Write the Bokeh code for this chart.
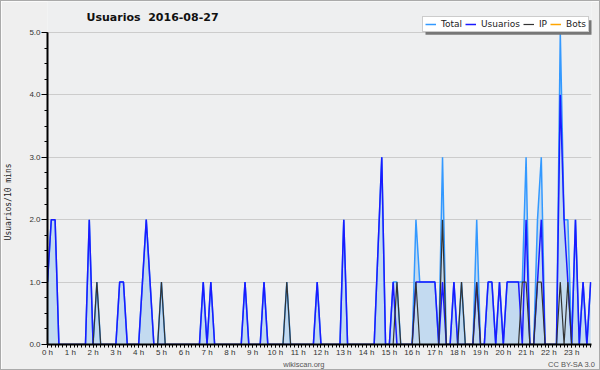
from bokeh.plotting import figure
from bokeh.models import (Range1d, Legend, LegendItem, FixedTicker, ColumnDataSource,
                          Label, LinearAxis, BoxAnnotation)
from bokeh.embed import file_html
from bokeh.resources import INLINE

title_text = "Usuarios\u00a0\u00a02016-08-27"
y_label = "Usuarios/10 mins"
hour_labels = ["0 h", "1 h", "2 h", "3 h", "4 h", "5 h", "6 h", "7 h", "8 h", "9 h",
               "10 h", "11 h", "12 h", "13 h", "14 h", "15 h", "16 h", "17 h", "18 h",
               "19 h", "20 h", "21 h", "22 h", "23 h"]
series_names = ["Total", "Usuarios", "IP", "Bots"]
footer_texts = ["wikiscan.org", "CC BY-SA 3.0"]

# 144 ten-minute slots
total = [1, 2, 2, 0, 0, 0, 0, 0, 0, 0, 0, 2, 0, 1, 0, 0, 0, 0, 0, 1, 1, 0, 0, 0,
         0, 1, 2, 1, 0, 0, 1, 0, 0, 0, 0, 0, 0, 0, 0, 0, 0, 1, 0, 1, 0, 0, 0, 0,
         0, 0, 0, 0, 1, 0, 0, 0, 0, 1, 0, 0, 0, 0, 0, 1, 0, 0, 0, 0, 0, 0, 0, 1,
         0, 0, 0, 0, 0, 0, 2, 0, 0, 0, 0, 0, 0, 0, 0, 1.5, 3, 0, 0, 1, 1, 0, 0, 0,
         0, 2, 1, 1, 1, 1, 1, 0, 3, 0, 0, 1, 0, 1, 0, 0, 0, 2, 0, 0, 1, 1, 0, 1,
         0, 1, 1, 1, 1, 1, 3, 0, 0, 2, 3, 0, 0, 0, 0, 5, 2, 2, 0, 2, 0, 1, 0, 1]
usuarios = [1, 2, 2, 0, 0, 0, 0, 0, 0, 0, 0, 2, 0, 0, 0, 0, 0, 0, 0, 1, 1, 0, 0, 0,
            0, 1, 2, 1, 0, 0, 0, 0, 0, 0, 0, 0, 0, 0, 0, 0, 0, 1, 0, 1, 0, 0, 0, 0,
            0, 0, 0, 0, 1, 0, 0, 0, 0, 1, 0, 0, 0, 0, 0, 0, 0, 0, 0, 0, 0, 0, 0, 1,
            0, 0, 0, 0, 0, 0, 2, 0, 0, 0, 0, 0, 0, 0, 0, 1.5, 3, 0, 0, 1, 0, 0, 0, 0,
            0, 1, 1, 1, 1, 1, 1, 0, 1, 0, 0, 1, 0, 0, 0, 0, 0, 1, 0, 0, 1, 1, 0, 1,
            0, 1, 1, 1, 1, 0, 2, 0, 0, 1, 2, 0, 0, 0, 0, 4, 2, 1, 0, 2, 0, 1, 0, 1]
ip = [0, 0, 0, 0, 0, 0, 0, 0, 0, 0, 0, 0, 0, 1, 0, 0, 0, 0, 0, 0, 0, 0, 0, 0,
      0, 0, 0, 0, 0, 0, 1, 0, 0, 0, 0, 0, 0, 0, 0, 0, 0, 0, 0, 0, 0, 0, 0, 0,
      0, 0, 0, 0, 0, 0, 0, 0, 0, 0, 0, 0, 0, 0, 0, 1, 0, 0, 0, 0, 0, 0, 0, 0,
      0, 0, 0, 0, 0, 0, 0, 0, 0, 0, 0, 0, 0, 0, 0, 0, 0, 0, 0, 0, 1, 0, 0, 0,
      0, 1, 0, 0, 0, 0, 0, 0, 2, 0, 0, 0, 0, 1, 0, 0, 0, 1, 0, 0, 0, 0, 0, 0,
      0, 0, 0, 0, 0, 1, 1, 0, 0, 1, 1, 0, 0, 0, 0, 1, 0, 1, 0, 0, 0, 0, 0, 0]
bots = [0, 0, 0, 0, 0, 0, 0, 0, 0, 0, 0, 0, 0, 0, 0, 0, 0, 0, 0, 0, 0, 0, 0, 0,
        0, 0, 0, 0, 0, 0, 0, 0, 0, 0, 0, 0, 0, 0, 0, 0, 0, 0, 0, 0, 0, 0, 0, 0,
        0, 0, 0, 0, 0, 0, 0, 0, 0, 0, 0, 0, 0, 0, 0, 0, 0, 0, 0, 0, 0, 0, 0, 0,
        0, 0, 0, 0, 0, 0, 0, 0, 0, 0, 0, 0, 0, 0, 0, 0, 0, 0, 0, 0, 0, 0, 0, 0,
        0, 0, 0, 0, 0, 0, 0, 0, 0, 0, 0, 0, 0, 0, 0, 0, 0, 0, 0, 0, 0, 0, 0, 0,
        0, 0, 0, 0, 0, 0, 0, 0, 0, 0, 0, 0, 0, 0, 0, 0, 0, 0, 0, 0, 0, 0, 0, 0]

hours = [i / 6 for i in range(len(total))]
src = ColumnDataSource(dict(h=hours, total=total, usuarios=usuarios, ip=ip,
                            bots=bots, zero=[0] * len(total)))

BG = "#efefef"
FONT = "DejaVu Sans"
TICKFONT = "Liberation Sans"

# layout: frame runs from the canvas top (title/legend live inside it) down to the x axis
W, H = 600, 370
BOTTOM = 26                 # bottom panel height
FB = H - BOTTOM             # canvas y of the frame bottom (value 0)
TOP5 = 31                   # canvas y of value 5.0
y_end = 5.0 * FB / (FB - TOP5)

p = figure(width=W, height=H, output_backend="svg", toolbar_location=None,
           x_range=Range1d(0, 23.87), y_range=Range1d(0, y_end), title=None)
p.min_border_left = 46
p.min_border_right = 10
p.min_border_top = 0
p.min_border_bottom = BOTTOM
p.background_fill_color = "#eeeff0"
p.border_fill_color = BG
p.outline_line_color = None

# hour axis
xa = p.xaxis[0]
xa.ticker = FixedTicker(ticks=list(range(24)), minor_ticks=hours)
xa.major_label_overrides = {i: lab for i, lab in enumerate(hour_labels)}
xa.axis_line_color = "black"
xa.axis_line_width = 2
xa.major_tick_line_color = "black"
xa.minor_tick_line_color = "black"
xa.major_tick_out = 3
xa.major_tick_in = 0
xa.minor_tick_out = 3
xa.minor_tick_in = 0
xa.major_label_standoff = 0
xa.major_label_text_font = TICKFONT
xa.major_label_text_font_size = "8px"
xa.major_label_text_color = "#333333"

# footer row (site name centred, licence at the right) drawn as a tick-less axis
foot = LinearAxis(ticker=FixedTicker(ticks=[11.25, 23.0], minor_ticks=[]),
                  major_label_overrides={11.25: footer_texts[0], 23.0: footer_texts[1]},
                  axis_line_color=None, major_tick_line_color=None,
                  minor_tick_line_color=None, major_tick_out=0, major_tick_in=0,
                  minor_tick_out=0, minor_tick_in=0, major_label_standoff=0,
                  major_label_text_font=TICKFONT, major_label_text_font_size="7.5px",
                  major_label_text_color="#555555")
p.add_layout(foot, "below")

ya = p.yaxis[0]
ya.bounds = (0, 5)
ya.ticker = FixedTicker(ticks=[0, 1, 2, 3, 4, 5],
                        minor_ticks=[i / 4 for i in range(21)])
ya.major_label_overrides = {0: "0.0", 1: "1.0", 2: "2.0", 3: "3.0", 4: "4.0", 5: "5.0"}
ya.axis_line_color = "black"
ya.axis_line_width = 2
ya.major_tick_line_color = "black"
ya.minor_tick_line_color = "black"
ya.major_tick_out = 6
ya.major_tick_in = 0
ya.minor_tick_out = 3
ya.minor_tick_in = 0
ya.major_label_standoff = 1
ya.major_label_text_font = TICKFONT
ya.major_label_text_font_size = "8px"
ya.major_label_text_color = "#333333"
# trailing no-break spaces shift the centred label down to where the original sits
ya.axis_label = y_label + "\u00a0" * 12
ya.axis_label_text_font = "DejaVu Sans Mono"
ya.axis_label_text_font_size = "8px"
ya.axis_label_text_font_style = "normal"
ya.axis_label_text_color = "#222222"
ya.axis_label_standoff = 13

p.xgrid.visible = False
p.ygrid.grid_line_color = "#cccccc"
p.ygrid.grid_line_width = 1

# series
r_bots = p.line("h", "bots", source=src, color="#ffa500", line_width=1.5)
p.varea(x="h", y1="zero", y2="total", source=src, fill_color="#c3daf0", fill_alpha=1)
r_total = p.line("h", "total", source=src, color="#3399ff", line_width=1.5)
r_users = p.line("h", "usuarios", source=src, color="#1a1aff", line_width=1.5)
r_ip = p.line("h", "ip", source=src, color="#333333", line_width=1.2)

# title (inside the tall frame, above the 5.0 line)
p.add_layout(Label(x=39, y=FB - 17, x_units="screen", y_units="screen",
                   text=title_text, text_font=FONT, text_font_size="11px",
                   text_font_style="bold", text_color="#111111",
                   text_baseline="middle"))

# legend box and its drop shadow
LEG_X, LEG_BOTTOM, LEG_W, LEG_H = 375, FB - 31.7, 166.5, 14.5
shadow = BoxAnnotation(left=LEG_X + 3, right=LEG_X + 3 + LEG_W,
                       bottom=LEG_BOTTOM - 2.6, top=LEG_BOTTOM - 2.6 + LEG_H,
                       left_units="screen", right_units="screen",
                       top_units="screen", bottom_units="screen",
                       fill_color="#777777", fill_alpha=1, line_color=None)
p.add_layout(shadow)

legend = Legend(items=[LegendItem(label=series_names[0], renderers=[r_total]),
                       LegendItem(label=series_names[1], renderers=[r_users]),
                       LegendItem(label=series_names[2], renderers=[r_ip]),
                       LegendItem(label=series_names[3], renderers=[r_bots])],
                location=(LEG_X, LEG_BOTTOM), orientation="horizontal",
                background_fill_color="white", background_fill_alpha=1,
                border_line_color="#999999", border_line_width=1,
                label_text_font=FONT, label_text_font_size="9px",
                label_text_color="#222222", glyph_width=11, glyph_height=10,
                label_standoff=5, spacing=3, padding=2, margin=0,
                label_height=9, label_width=0)
p.add_layout(legend)

p.styles = {"border": "1px solid #aaaaaa"}

open("out.html", "w").write(file_html(p, INLINE))
